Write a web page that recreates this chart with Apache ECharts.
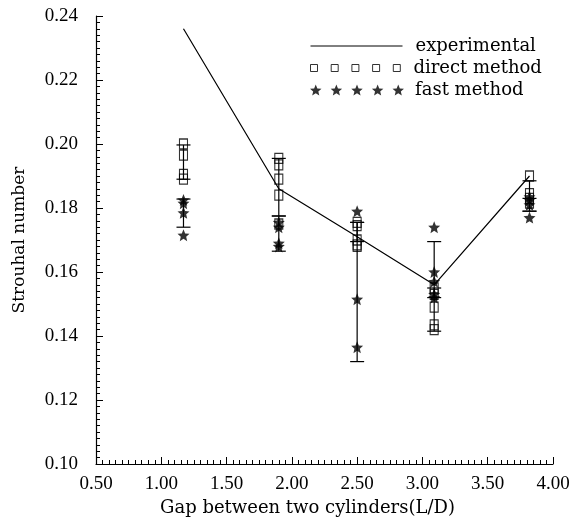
<!DOCTYPE html>
<html><head><meta charset="utf-8">
<script src="https://cdn.jsdelivr.net/npm/echarts@6/dist/echarts.min.js"></script>
<style>html,body{margin:0;padding:0;background:#fff}#c{width:581px;height:528px}</style>
</head><body><div id="c"></div>
<script>
// ---- data ----
const gaps = [1.17, 1.90, 2.50, 3.09, 3.82];
const experimental = [0.236, 0.186, 0.171, 0.156, 0.190];
const directValues = [
  [0.2000, 0.1965, 0.1905, 0.1890],
  [0.1955, 0.1935, 0.1890, 0.1840, 0.1750],
  [0.1755, 0.1745, 0.1700, 0.1685, 0.1680],
  [0.1550, 0.1530, 0.1490, 0.1435, 0.1420],
  [0.1900, 0.1845, 0.1830, 0.1815]
];
const fastValues = [
  [0.1825, 0.1815, 0.1785, 0.1715],
  [0.1755, 0.1740, 0.1690, 0.1680],
  [0.1790, 0.1515, 0.1365],
  [0.1740, 0.1600, 0.1570, 0.1530, 0.1520],
  [0.1835, 0.1825, 0.1810, 0.1770]
];
const directRange = [[0.1890, 0.1997], [0.1775, 0.1955], [0.1695, 0.1755], [0.1415, 0.1550], [0.1790, 0.1885]];
const fastRange = [[0.1740, 0.1828], [0.1665, 0.1775], [0.1320, 0.1755], [0.1520, 0.1695], [0.1790, 0.1830]];
const xTicks = { min: 0.5, max: 4.0, interval: 0.5 };
const yTicks = { min: 0.10, max: 0.24, interval: 0.02 };

// ---- helpers (icon geometry only) ----
const TICKFONT = "'Liberation Serif','DejaVu Serif',serif";
const FONT = "'DejaVu Serif','Liberation Serif',serif";
function starPts(cx, cy, R, r) {
  let s = '';
  for (let k = 0; k < 10; k++) {
    const a = -Math.PI / 2 + k * Math.PI / 5;
    const rad = k % 2 === 0 ? R : r;
    s += (k === 0 ? 'M' : 'L') + (cx + rad * Math.cos(a)).toFixed(2) + ',' + (cy + rad * Math.sin(a)).toFixed(2) + ' ';
  }
  return s + 'Z ';
}
const starSymbol = 'path://' + starPts(10, 10, 10, 4.5);
let starLegend = 'path://';
for (let i = 0; i < 5; i++) starLegend += starPts(6 + i * 20.5, 6, 6, 2.7);
let sqLegend = 'path://';
for (let i = 0; i < 5; i++) { const x = i * 20.7; sqLegend += `M${x},0 L${x + 7},0 L${x + 7},7 L${x},7 Z `; }

const directPts = [], fastPts = [], expPts = [], barData = [];
gaps.forEach((g, i) => {
  directValues[i].forEach(v => directPts.push([g, v]));
  fastValues[i].forEach(v => fastPts.push([g, v]));
  expPts.push([g, experimental[i]]);
  barData.push([g, directRange[i][0], directRange[i][1]]);
  barData.push([g, fastRange[i][0], fastRange[i][1]]);
});

const legendText = { fontFamily: FONT, fontSize: 18, color: '#000', padding: [0, 0, 0, 8] };
const chart = echarts.init(document.getElementById('c'));
chart.setOption({
  animation: false,
  backgroundColor: '#fff',
  grid: { left: 96, right: 28, top: 16, bottom: 64 },
  xAxis: {
    type: 'value', min: xTicks.min, max: xTicks.max, interval: xTicks.interval,
    name: 'Gap between two cylinders(L/D)', nameLocation: 'middle', nameGap: 33,
    nameTextStyle: { fontFamily: FONT, fontSize: 18, color: '#000', padding: [0, 34, 0, 0] },
    axisLine: { onZero: false, lineStyle: { color: '#000', width: 1.2 } },
    axisTick: { inside: true, length: 7, lineStyle: { color: '#000' } },
    minorTick: { show: true, splitNumber: 10, length: 4, lineStyle: { color: '#000' } },
    splitLine: { show: false },
    axisLabel: { margin: 11, fontFamily: TICKFONT, fontSize: 19, color: '#000', formatter: v => v.toFixed(2) }
  },
  yAxis: {
    type: 'value', min: yTicks.min, max: yTicks.max, interval: yTicks.interval,
    name: 'Strouhal number', nameLocation: 'middle', nameGap: 68,
    nameTextStyle: { fontFamily: FONT, fontSize: 17, color: '#000' },
    axisLine: { onZero: false, lineStyle: { color: '#000', width: 1.2 } },
    axisTick: { inside: true, length: 7, lineStyle: { color: '#000' } },
    minorTick: { show: true, splitNumber: 10, length: 4, lineStyle: { color: '#000' } },
    splitLine: { show: false },
    axisLabel: { margin: 18, fontFamily: TICKFONT, fontSize: 19, color: '#000', formatter: v => v.toFixed(2) }
  },
  legend: [
    { left: 310, top: 37, padding: 0, itemWidth: 92, itemHeight: 8, textStyle: legendText,
      data: [{ name: 'experimental', itemStyle: { opacity: 0 }, lineStyle: { color: '#000', width: 1 } }] },
    { left: 310, top: 59, padding: 0, itemWidth: 90, itemHeight: 7, textStyle: legendText,
      data: [{ name: 'direct method', icon: sqLegend, itemStyle: { color: 'rgba(0,0,0,0)', borderColor: '#000', borderWidth: 1 } }] },
    { left: 310, top: 81, padding: 0, itemWidth: 94, itemHeight: 12, textStyle: { fontFamily: FONT, fontSize: 18, color: '#000', padding: [0, 0, 0, 6] },
      data: [{ name: 'fast method', icon: starLegend, itemStyle: { color: '#000', borderWidth: 0 } }] }
  ],
  series: [
    {
      type: 'custom', name: 'bars', data: barData, z: 1,
      encode: { x: 0, y: [1, 2] },
      renderItem: (params, api) => {
        const x = api.value(0);
        const lo = api.coord([x, api.value(1)]);
        const hi = api.coord([x, api.value(2)]);
        const w = 7;
        const st = { stroke: '#000', lineWidth: 1.2 };
        return { type: 'group', children: [
          { type: 'line', shape: { x1: lo[0], y1: lo[1], x2: hi[0], y2: hi[1] }, style: st },
          { type: 'line', shape: { x1: lo[0] - w, y1: lo[1], x2: lo[0] + w, y2: lo[1] }, style: st },
          { type: 'line', shape: { x1: hi[0] - w, y1: hi[1], x2: hi[0] + w, y2: hi[1] }, style: st }
        ]};
      }
    },
    {
      type: 'line', name: 'experimental', data: expPts, symbol: 'none', z: 3,
      lineStyle: { color: '#000', width: 1.2 }, itemStyle: { color: '#000' }
    },
    {
      type: 'scatter', name: 'direct method', data: directPts, symbol: 'rect', symbolSize: [8, 10], z: 4,
      itemStyle: { color: 'rgba(0,0,0,0)', borderColor: '#000', borderWidth: 1.2 }
    },
    {
      type: 'scatter', name: 'fast method', data: fastPts, symbol: starSymbol, symbolSize: 12, z: 5,
      itemStyle: { color: '#000' }
    }
  ]
});
</script>
</body></html>
